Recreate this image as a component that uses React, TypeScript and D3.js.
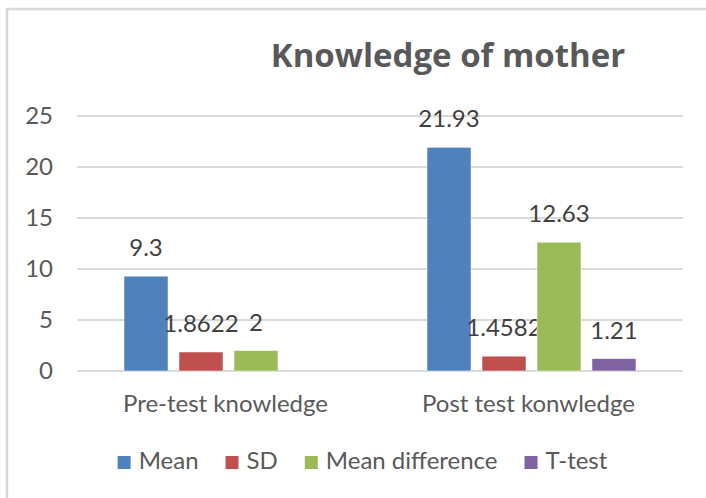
import * as d3 from 'd3'

const categories = ['Pre-test knowledge', 'Post test konwledge']
const seriesNames = ['Mean', 'SD', 'Mean difference', 'T-test']
const meanValues = [9.3, 21.93]
const sdValues = [1.8622, 1.4582]
const meanDiffValues = [2, 12.63]
const tTestValues: (number | null)[] = [null, 1.21]
const yTicks = [0, 5, 10, 15, 20, 25]

const COLORS = ['#4f81bd', '#c0504d', '#9bbb59', '#8064a2']
const W = 706
const H = 498
const FONT = 'Lato, "Open Sans", sans-serif'
const TXT = '#595959'
const GRID = '#d9d9d9'
const PLOT = { left: 77, right: 683, top: 116, bottom: 371 }

const series = [meanValues, sdValues, meanDiffValues, tTestValues]

function measure(text: string, size: number) {
  const ctx = document.createElement('canvas').getContext('2d')
  if (!ctx) return text.length * size * 0.5
  ctx.font = `${size}px Lato, "Open Sans", sans-serif`
  return ctx.measureText(text).width
}

export default function App() {
  const x0 = d3.scaleBand<string>()
    .domain(categories)
    .range([PLOT.left, PLOT.right])
    .paddingInner(0.274)
    .paddingOuter(0.137)

  const x1 = d3.scaleBand<string>()
    .domain(seriesNames)
    .range([0, x0.bandwidth()])
    .paddingInner(0.2)
    .paddingOuter(0.1)

  const y = d3.scaleLinear().domain([0, 25]).range([PLOT.bottom, PLOT.top])

  // legend layout
  const legendSize = 24
  const sw = 13
  const items = seriesNames.map(n => ({ name: n, w: sw + 8 + measure(n, legendSize) }))
  const gap = 27
  const total = d3.sum(items, d => d.w) + gap * (items.length - 1)
  let lx = 362.5 - total / 2
  const legend = items.map(it => {
    const o = { ...it, x: lx }
    lx += it.w + gap
    return o
  })

  return (
    <div style={{ position: 'absolute', left: 0, top: 0 }}>
      <svg width={W} height={H} style={{ display: 'block', fontFamily: FONT }}>
        <rect x={0} y={0} width={W} height={H} fill="#fff" />
        <rect x={7} y={9} width={W + 20} height={H + 20} fill="none" stroke="#d9d9d9" strokeWidth={2.5} />

        <text x={448} y={67} textAnchor="middle" fontSize={33} fontWeight={700}
          fontFamily='"Open Sans", Lato, sans-serif' fill={TXT}>
          Knowledge of mother
        </text>

        {yTicks.map(t => (
          <g key={t}>
            <line x1={PLOT.left} x2={PLOT.right} y1={y(t)} y2={y(t)} stroke={GRID} strokeWidth={2} />
            <text x={53} y={y(t)} dy="0.35em" textAnchor="end" fontSize={24} fill={TXT}>{t}</text>
          </g>
        ))}

        {categories.map((c, ci) => (
          <g key={c} transform={`translate(${x0(c)},0)`}>
            {seriesNames.map((s, si) => {
              const v = series[si][ci]
              if (v == null) return null
              const bx = x1(s) as number
              return (
                <g key={s}>
                  <rect x={bx} y={y(v)} width={x1.bandwidth()} height={y(0) - y(v)}
                    fill={COLORS[si]} stroke="#fff" strokeWidth={0.5} />
                  <text x={bx + x1.bandwidth() / 2} y={y(v) - 20} textAnchor="middle" fontSize={24} fill="#404040">
                    {v}
                  </text>
                </g>
              )
            })}
            <text x={x0.bandwidth() / 2 - 3} y={412} textAnchor="middle" fontSize={24} fill={TXT}>{c}</text>
          </g>
        ))}

        {legend.map((it, i) => (
          <g key={it.name} transform={`translate(${it.x},456)`}>
            <rect x={0} y={0} width={sw} height={sw} fill={COLORS[i]} />
            <text x={sw + 8} y={13} fontSize={legendSize} fill={TXT}>{it.name}</text>
          </g>
        ))}
      </svg>
    </div>
  )
}
